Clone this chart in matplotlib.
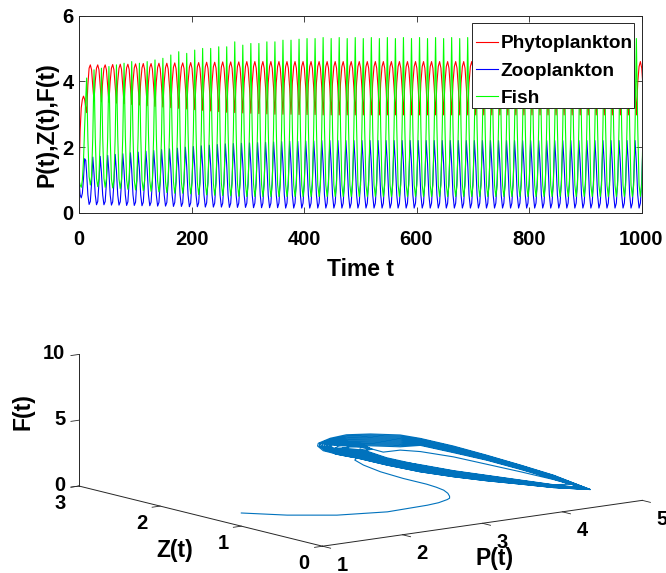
#!/usr/bin/env python3
"""Time series and phase portrait of the plankton / fish model."""

import matplotlib

matplotlib.use("Agg")
import matplotlib.pyplot as plt
import numpy as np
from matplotlib.patches import Rectangle

plt.rcParams["font.family"] = ["Liberation Sans", "DejaVu Sans"]
plt.rcParams["font.weight"] = "bold"

DARK = "#262626"
LINE_BLUE = "#0072BD"

# --- top panel ---
lead_t = [0, 2, 4, 6, 8, 10, 12]
lead_phyto = [1.0, 2.5, 3.2, 3.45, 3.55, 3.45, 3.2]
lead_zoo = [1.0, 0.55, 0.46, 0.6, 1.05, 1.65, 1.6]
lead_fish = [1.0, 0.85, 0.78, 1.0, 1.6, 2.6, 3.5]

# times of the fish peaks, one stretch of samples sits between two of them
peak_t = [13.6, 26.7, 39.9, 53.2, 66.6, 80.1, 93.7, 107.4, 121.2, 135.1, 149.1, 163.2,
          177.3, 191.5, 205.7, 219.8, 234.1, 248.4, 262.6, 276.9, 291.2, 305.5, 319.8,
          334.0, 348.3, 362.6, 376.9, 391.2, 405.4, 419.7, 434.0, 448.3, 462.6, 476.8,
          491.1, 505.4, 519.7, 534.0, 548.2, 562.5, 576.8, 591.1, 605.4, 619.6, 633.9,
          648.2, 662.5, 676.8, 691.0, 705.3, 719.6, 733.9, 748.2, 762.4, 776.7, 791.0,
          805.3, 819.6, 833.8, 848.1, 862.4, 876.7, 891.0, 905.2, 919.5, 933.8, 948.1,
          962.4, 976.6, 990.9, 1005.2]

# six samples per stretch
phyto = [
    3.05, 3.90, 4.40, 4.50, 4.35, 3.85, 3.40, 4.00, 4.40, 4.50, 4.35, 3.85,
    3.38, 4.00, 4.40, 4.50, 4.35, 3.85, 3.36, 4.00, 4.40, 4.51, 4.35, 3.85,
    3.34, 4.00, 4.40, 4.52, 4.36, 3.85, 3.32, 4.00, 4.41, 4.52, 4.36, 3.85,
    3.30, 3.98, 4.41, 4.53, 4.37, 3.85, 3.28, 3.98, 4.41, 4.54, 4.37, 3.84,
    3.26, 3.98, 4.42, 4.54, 4.37, 3.84, 3.24, 3.98, 4.42, 4.55, 4.38, 3.84,
    3.22, 3.97, 4.42, 4.55, 4.38, 3.84, 3.20, 3.97, 4.43, 4.56, 4.38, 3.83,
    3.18, 3.97, 4.43, 4.56, 4.39, 3.83, 3.16, 3.96, 4.43, 4.57, 4.39, 3.83,
    3.14, 3.96, 4.44, 4.57, 4.39, 3.83, 3.12, 3.96, 4.44, 4.58, 4.39, 3.82,
    3.10, 3.96, 4.44, 4.58, 4.40, 3.82, 3.08, 3.95, 4.44, 4.59, 4.40, 3.82,
    3.06, 3.95, 4.45, 4.59, 4.40, 3.82, 3.05, 3.95, 4.45, 4.59, 4.40, 3.81,
    3.04, 3.95, 4.45, 4.60, 4.40, 3.81, 3.03, 3.95, 4.45, 4.60, 4.40, 3.81,
    3.02, 3.95, 4.45, 4.60, 4.40, 3.81, 3.01, 3.95, 4.45, 4.60, 4.40, 3.80,
    3.00, 3.95, 4.45, 4.60, 4.40, 3.80, 3.00, 3.95, 4.45, 4.60, 4.40, 3.80,
    3.00, 3.95, 4.45, 4.60, 4.40, 3.80, 2.99, 3.95, 4.45, 4.60, 4.40, 3.80,
    2.99, 3.95, 4.45, 4.60, 4.40, 3.80, 2.99, 3.95, 4.45, 4.60, 4.40, 3.80,

    2.98, 3.95, 4.45, 4.60, 4.40, 3.80, 2.98, 3.95, 4.45, 4.60, 4.40, 3.80,
    2.98, 3.95, 4.45, 4.60, 4.40, 3.80, 2.98, 3.95, 4.45, 4.60, 4.40, 3.80,
    2.98, 3.95, 4.45, 4.60, 4.40, 3.80, 2.98, 3.95, 4.45, 4.60, 4.40, 3.80,
    2.98, 3.95, 4.45, 4.60, 4.40, 3.80, 2.98, 3.95, 4.45, 4.60, 4.40, 3.80,
    2.98, 3.95, 4.45, 4.60, 4.40, 3.80, 2.98, 3.95, 4.45, 4.60, 4.40, 3.80,

    2.98, 3.95, 4.45, 4.60, 4.40, 3.80, 2.98, 3.95, 4.45, 4.60, 4.40, 3.80,
    2.98, 3.95, 4.45, 4.60, 4.40, 3.80, 2.98, 3.95, 4.45, 4.60, 4.40, 3.80,
    2.98, 3.95, 4.45, 4.60, 4.40, 3.80, 2.98, 3.95, 4.45, 4.60, 4.40, 3.80,
    2.98, 3.95, 4.45, 4.60, 4.40, 3.80, 2.98, 3.95, 4.45, 4.60, 4.40, 3.80,
    2.98, 3.95, 4.45, 4.60, 4.40, 3.80, 2.98, 3.95, 4.45, 4.60, 4.40, 3.80,

    2.98, 3.95, 4.45, 4.60, 4.40, 3.80, 2.98, 3.95, 4.45, 4.60, 4.40, 3.80,
    2.98, 3.95, 4.45, 4.60, 4.40, 3.80, 2.98, 3.95, 4.45, 4.60, 4.40, 3.80,
    2.98, 3.95, 4.45, 4.60, 4.40, 3.80, 2.98, 3.95, 4.45, 4.60, 4.40, 3.80,
    2.98, 3.95, 4.45, 4.60, 4.40, 3.80, 2.98, 3.95, 4.45, 4.60, 4.40, 3.80,
    2.98, 3.95, 4.45, 4.60, 4.40, 3.80, 2.98, 3.95, 4.45, 4.60, 4.40, 3.80,

    2.98, 3.95, 4.45, 4.60, 4.40, 3.80, 2.98, 3.95, 4.45, 4.60, 4.40, 3.80,
    2.98, 3.95, 4.45, 4.60, 4.40, 3.80, 2.98, 3.95, 4.45, 4.60, 4.40, 3.80,
    2.98, 3.95, 4.45, 4.60, 4.40, 3.80, 2.98, 3.95, 4.45, 4.60, 4.40, 3.80,
    2.98, 3.95, 4.45, 4.60, 4.40, 3.80, 2.98, 3.95, 4.45, 4.60, 4.40, 3.80,
    2.98, 3.95, 4.45, 4.60, 4.40, 3.80, 2.98, 3.95, 4.45, 4.60, 4.40, 3.80,
]
zoo = [
    1.20, 0.55, 0.26, 0.35, 0.90, 1.70, 1.20, 0.55, 0.25, 0.35, 0.92, 1.72,
    1.22, 0.55, 0.25, 0.35, 0.93, 1.75, 1.24, 0.55, 0.24, 0.34, 0.94, 1.78,
    1.26, 0.55, 0.24, 0.34, 0.95, 1.80, 1.28, 0.55, 0.23, 0.34, 0.96, 1.83,
    1.30, 0.55, 0.23, 0.33, 0.96, 1.85, 1.32, 0.55, 0.22, 0.33, 0.97, 1.88,
    1.33, 0.55, 0.22, 0.33, 0.97, 1.90, 1.35, 0.55, 0.21, 0.32, 0.98, 1.93,
    1.36, 0.55, 0.21, 0.32, 0.98, 1.95, 1.38, 0.55, 0.20, 0.32, 0.98, 1.97,
    1.40, 0.55, 0.20, 0.31, 0.99, 2.00, 1.41, 0.55, 0.19, 0.31, 0.99, 2.02,
    1.42, 0.55, 0.19, 0.31, 0.99, 2.04, 1.43, 0.55, 0.18, 0.31, 1.00, 2.06,
    1.44, 0.55, 0.18, 0.30, 1.00, 2.08, 1.45, 0.55, 0.18, 0.30, 1.00, 2.10,
    1.46, 0.55, 0.17, 0.30, 1.00, 2.11, 1.47, 0.55, 0.17, 0.30, 1.00, 2.12,
    1.48, 0.55, 0.17, 0.30, 1.00, 2.13, 1.48, 0.55, 0.16, 0.30, 1.00, 2.14,
    1.49, 0.55, 0.16, 0.30, 1.00, 2.15, 1.49, 0.55, 0.16, 0.30, 1.00, 2.16,
    1.50, 0.55, 0.16, 0.30, 1.00, 2.17, 1.50, 0.55, 0.15, 0.30, 1.00, 2.18,
    1.50, 0.55, 0.15, 0.30, 1.00, 2.18, 1.50, 0.55, 0.15, 0.30, 1.00, 2.19,
    1.50, 0.55, 0.15, 0.30, 1.00, 2.19, 1.50, 0.55, 0.15, 0.30, 1.00, 2.20,

    1.50, 0.55, 0.15, 0.30, 1.00, 2.20, 1.50, 0.55, 0.15, 0.30, 1.00, 2.20,
    1.50, 0.55, 0.15, 0.30, 1.00, 2.20, 1.50, 0.55, 0.15, 0.30, 1.00, 2.20,
    1.50, 0.55, 0.15, 0.30, 1.00, 2.20, 1.50, 0.55, 0.15, 0.30, 1.00, 2.20,
    1.50, 0.55, 0.15, 0.30, 1.00, 2.20, 1.50, 0.55, 0.15, 0.30, 1.00, 2.20,
    1.50, 0.55, 0.15, 0.30, 1.00, 2.20, 1.50, 0.55, 0.15, 0.30, 1.00, 2.20,

    1.50, 0.55, 0.15, 0.30, 1.00, 2.20, 1.50, 0.55, 0.15, 0.30, 1.00, 2.20,
    1.50, 0.55, 0.15, 0.30, 1.00, 2.20, 1.50, 0.55, 0.15, 0.30, 1.00, 2.20,
    1.50, 0.55, 0.15, 0.30, 1.00, 2.20, 1.50, 0.55, 0.15, 0.30, 1.00, 2.20,
    1.50, 0.55, 0.15, 0.30, 1.00, 2.20, 1.50, 0.55, 0.15, 0.30, 1.00, 2.20,
    1.50, 0.55, 0.15, 0.30, 1.00, 2.20, 1.50, 0.55, 0.15, 0.30, 1.00, 2.20,

    1.50, 0.55, 0.15, 0.30, 1.00, 2.20, 1.50, 0.55, 0.15, 0.30, 1.00, 2.20,
    1.50, 0.55, 0.15, 0.30, 1.00, 2.20, 1.50, 0.55, 0.15, 0.30, 1.00, 2.20,
    1.50, 0.55, 0.15, 0.30, 1.00, 2.20, 1.50, 0.55, 0.15, 0.30, 1.00, 2.20,
    1.50, 0.55, 0.15, 0.30, 1.00, 2.20, 1.50, 0.55, 0.15, 0.30, 1.00, 2.20,
    1.50, 0.55, 0.15, 0.30, 1.00, 2.20, 1.50, 0.55, 0.15, 0.30, 1.00, 2.20,

    1.50, 0.55, 0.15, 0.30, 1.00, 2.20, 1.50, 0.55, 0.15, 0.30, 1.00, 2.20,
    1.50, 0.55, 0.15, 0.30, 1.00, 2.20, 1.50, 0.55, 0.15, 0.30, 1.00, 2.20,
    1.50, 0.55, 0.15, 0.30, 1.00, 2.20, 1.50, 0.55, 0.15, 0.30, 1.00, 2.20,
    1.50, 0.55, 0.15, 0.30, 1.00, 2.20, 1.50, 0.55, 0.15, 0.30, 1.00, 2.20,
    1.50, 0.55, 0.15, 0.30, 1.00, 2.20, 1.50, 0.55, 0.15, 0.30, 1.00, 2.20,
]
fish = [
    4.10, 2.25, 1.10, 0.85, 1.10, 2.30, 4.35, 2.30, 1.05, 0.80, 1.05, 2.30,
    4.40, 2.30, 1.05, 0.78, 1.05, 2.30, 4.45, 2.32, 1.03, 0.76, 1.03, 2.32,
    4.50, 2.32, 1.03, 0.74, 1.03, 2.34, 4.55, 2.34, 1.01, 0.72, 1.01, 2.34,
    4.60, 2.36, 1.00, 0.70, 1.00, 2.36, 4.55, 2.36, 0.99, 0.68, 0.99, 2.36,
    4.60, 2.38, 0.98, 0.66, 0.98, 2.38, 4.65, 2.38, 0.97, 0.64, 0.97, 2.40,
    4.70, 2.40, 0.96, 0.62, 0.96, 2.42, 4.80, 2.42, 0.95, 0.60, 0.95, 2.44,
    4.90, 2.44, 0.94, 0.60, 0.94, 2.44, 4.85, 2.46, 0.93, 0.58, 0.93, 2.46,
    4.95, 2.48, 0.92, 0.56, 0.92, 2.48, 5.00, 2.50, 0.91, 0.55, 0.91, 2.50,
    5.00, 2.50, 0.90, 0.54, 0.90, 2.50, 5.05, 2.52, 0.90, 0.53, 0.90, 2.52,
    5.05, 2.52, 0.89, 0.52, 0.89, 2.52, 5.20, 2.54, 0.89, 0.51, 0.89, 2.54,
    5.10, 2.54, 0.88, 0.50, 0.88, 2.54, 5.15, 2.56, 0.88, 0.50, 0.88, 2.56,
    5.15, 2.56, 0.87, 0.50, 0.87, 2.56, 5.20, 2.58, 0.87, 0.50, 0.87, 2.58,
    5.20, 2.58, 0.86, 0.50, 0.86, 2.58, 5.25, 2.60, 0.86, 0.50, 0.86, 2.60,
    5.25, 2.60, 0.85, 0.50, 0.85, 2.60, 5.28, 2.60, 0.85, 0.50, 0.85, 2.60,
    5.30, 2.60, 0.85, 0.50, 0.85, 2.60, 5.30, 2.60, 0.85, 0.50, 0.85, 2.60,

    5.33, 2.60, 0.85, 0.50, 0.85, 2.60, 5.30, 2.60, 0.85, 0.50, 0.85, 2.60,
    5.33, 2.60, 0.85, 0.50, 0.85, 2.60, 5.30, 2.60, 0.85, 0.50, 0.85, 2.60,
    5.33, 2.60, 0.85, 0.50, 0.85, 2.60, 5.30, 2.60, 0.85, 0.50, 0.85, 2.60,
    5.33, 2.60, 0.85, 0.50, 0.85, 2.60, 5.30, 2.60, 0.85, 0.50, 0.85, 2.60,
    5.33, 2.60, 0.85, 0.50, 0.85, 2.60, 5.30, 2.60, 0.85, 0.50, 0.85, 2.60,

    5.33, 2.60, 0.85, 0.50, 0.85, 2.60, 5.30, 2.60, 0.85, 0.50, 0.85, 2.60,
    5.33, 2.60, 0.85, 0.50, 0.85, 2.60, 5.30, 2.60, 0.85, 0.50, 0.85, 2.60,
    5.33, 2.60, 0.85, 0.50, 0.85, 2.60, 5.30, 2.60, 0.85, 0.50, 0.85, 2.60,
    5.33, 2.60, 0.85, 0.50, 0.85, 2.60, 5.30, 2.60, 0.85, 0.50, 0.85, 2.60,
    5.33, 2.60, 0.85, 0.50, 0.85, 2.60, 5.30, 2.60, 0.85, 0.50, 0.85, 2.60,

    5.33, 2.60, 0.85, 0.50, 0.85, 2.60, 5.30, 2.60, 0.85, 0.50, 0.85, 2.60,
    5.33, 2.60, 0.85, 0.50, 0.85, 2.60, 5.30, 2.60, 0.85, 0.50, 0.85, 2.60,
    5.33, 2.60, 0.85, 0.50, 0.85, 2.60, 5.30, 2.60, 0.85, 0.50, 0.85, 2.60,
    5.33, 2.60, 0.85, 0.50, 0.85, 2.60, 5.30, 2.60, 0.85, 0.50, 0.85, 2.60,
    5.33, 2.60, 0.85, 0.50, 0.85, 2.60, 5.30, 2.60, 0.85, 0.50, 0.85, 2.60,

    5.33, 2.60, 0.85, 0.50, 0.85, 2.60, 5.30, 2.60, 0.85, 0.50, 0.85, 2.60,
    5.33, 2.60, 0.85, 0.50, 0.85, 2.60, 5.30, 2.60, 0.85, 0.50, 0.85, 2.60,
    5.33, 2.60, 0.85, 0.50, 0.85, 2.60, 5.30, 2.60, 0.85, 0.50, 0.85, 2.60,
    5.33, 2.60, 0.85, 0.50, 0.85, 2.60, 5.30, 2.60, 0.85, 0.50, 0.85, 2.60,
    5.33, 2.60, 0.85, 0.50, 0.85, 2.60, 5.30, 2.60, 0.85, 0.50, 0.85, 2.60,
]

# --- bottom panel: trajectory in (P, Z, F) ---
start_P = [1.00, 1.37, 1.81, 2.32, 2.82, 3.00, 3.17, 3.25, 3.30, 3.38, 3.43, 3.47, 3.47, 3.43,
           3.35, 3.24, 3.13]
start_Z = [1.00, 0.80, 0.62, 0.50, 0.50, 0.54, 0.60, 0.65, 0.70, 0.80, 0.90, 1.03, 1.15, 1.40,
           1.60, 1.70, 1.70]
start_F = [1.00, 0.82, 0.71, 0.70, 0.77, 0.74, 0.74, 0.70, 0.73, 0.73, 0.77, 0.76, 0.81, 0.90,
           1.17, 1.62, 2.10]

# first, innermost pass round the loop
first_P = [2.89, 2.87, 2.93, 3.10, 3.36, 3.68, 4.04, 4.30, 4.40, 4.29, 4.17, 4.06, 3.90, 3.80,
           3.74, 3.61, 3.48, 3.38, 3.43]
first_Z = [1.40, 1.05, 0.70, 0.45, 0.30, 0.20, 0.15, 0.20, 0.50, 0.80, 1.10, 1.40, 1.65, 1.80,
           1.95, 2.05, 2.10, 2.10, 2.05]
first_F = [3.17, 3.35, 3.45, 3.22, 2.87, 2.38, 1.80, 1.53, 1.34, 1.57, 1.79, 1.99, 2.15, 2.12,
           1.79, 2.14, 2.25, 2.11, 1.84]

# tight turns inside the left lobe
lobe_P = [3.63, 3.53, 3.38, 3.23, 3.18, 3.25, 3.40, 3.55,
          3.60, 3.50, 3.38, 3.28, 3.25, 3.33, 3.45, 3.55,
          3.65, 3.50, 3.31, 3.13, 3.08, 3.19, 3.40, 3.60]
lobe_Z = [2.00, 2.00, 2.00, 2.00, 2.00, 2.00, 2.00, 2.00,
          2.00, 2.00, 2.00, 2.00, 2.00, 2.00, 2.00, 2.00,
          2.00, 2.00, 2.00, 2.00, 2.00, 2.00, 2.00, 2.00]
lobe_F = [2.05, 2.44, 2.65, 2.63, 2.44, 2.07, 1.86, 1.81,
          2.07, 2.31, 2.42, 2.43, 2.30, 2.08, 1.97, 1.96,
          2.02, 2.58, 2.85, 2.79, 2.53, 2.05, 1.63, 1.61]

# later passes share their Z values, inner to outer
loop_Z = [1.40, 1.05, 0.70, 0.45, 0.30, 0.20, 0.15, 0.20, 0.50, 0.80, 1.10, 1.40, 1.65, 1.80,
          1.95, 2.05, 2.10, 2.10, 2.05, 1.95, 1.70]
loop_P = [
    [2.89, 2.87, 2.93, 3.10, 3.36, 3.68, 4.04, 4.45, 4.40, 4.29, 4.17, 4.06, 3.90, 3.80,
     3.58, 3.43, 3.33, 3.24, 3.18, 3.12, 2.98],
    [2.89, 2.87, 2.93, 3.10, 3.36, 3.68, 4.04, 4.46, 4.40, 4.29, 4.17, 4.06, 3.90, 3.80,
     3.58, 3.43, 3.32, 3.22, 3.16, 3.11, 2.98],
    [2.89, 2.87, 2.93, 3.10, 3.36, 3.68, 4.04, 4.47, 4.40, 4.29, 4.17, 4.06, 3.90, 3.80,
     3.58, 3.42, 3.31, 3.20, 3.14, 3.09, 2.97],
    [2.89, 2.87, 2.93, 3.10, 3.36, 3.68, 4.04, 4.49, 4.40, 4.29, 4.17, 4.06, 3.90, 3.80,
     3.58, 3.42, 3.30, 3.19, 3.13, 3.08, 2.97],
    [2.89, 2.87, 2.93, 3.10, 3.36, 3.68, 4.04, 4.50, 4.40, 4.29, 4.17, 4.06, 3.90, 3.80,
     3.58, 3.41, 3.29, 3.17, 3.11, 3.07, 2.97],
    [2.89, 2.87, 2.93, 3.10, 3.36, 3.68, 4.04, 4.51, 4.40, 4.29, 4.17, 4.06, 3.90, 3.80,
     3.58, 3.41, 3.28, 3.16, 3.10, 3.06, 2.97],
    [2.89, 2.87, 2.93, 3.10, 3.36, 3.68, 4.04, 4.52, 4.40, 4.29, 4.17, 4.06, 3.90, 3.80,
     3.58, 3.40, 3.27, 3.14, 3.08, 3.04, 2.96],
    [2.89, 2.87, 2.93, 3.10, 3.36, 3.68, 4.04, 4.53, 4.40, 4.29, 4.17, 4.06, 3.90, 3.80,
     3.58, 3.40, 3.26, 3.13, 3.07, 3.03, 2.96],
    [2.89, 2.87, 2.93, 3.10, 3.36, 3.68, 4.04, 4.54, 4.40, 4.29, 4.17, 4.06, 3.90, 3.80,
     3.58, 3.39, 3.25, 3.11, 3.05, 3.02, 2.96],
    [2.89, 2.87, 2.93, 3.10, 3.36, 3.68, 4.04, 4.55, 4.40, 4.29, 4.17, 4.06, 3.90, 3.80,
     3.58, 3.39, 3.24, 3.10, 3.04, 3.01, 2.96],
    [2.89, 2.87, 2.93, 3.10, 3.36, 3.68, 4.04, 4.55, 4.40, 4.29, 4.17, 4.06, 3.90, 3.80,
     3.58, 3.38, 3.23, 3.08, 3.02, 2.99, 2.95],
]
loop_F = [
    [3.62, 3.49, 3.41, 3.19, 2.84, 2.36, 1.78, 1.15, 1.37, 1.75, 2.10, 2.31, 2.62, 2.37,
     2.41, 2.37, 2.41, 2.56, 2.59, 2.63, 3.14],
    [3.55, 3.44, 3.36, 3.15, 2.80, 2.33, 1.76, 1.12, 1.40, 1.79, 2.14, 2.36, 2.67, 2.46,
     2.50, 2.46, 2.48, 2.59, 2.61, 2.62, 3.09],
    [3.47, 3.38, 3.31, 3.10, 2.76, 2.30, 1.74, 1.09, 1.43, 1.82, 2.18, 2.41, 2.72, 2.55,
     2.59, 2.55, 2.54, 2.61, 2.62, 2.61, 3.04],
    [3.40, 3.33, 3.26, 3.06, 2.73, 2.28, 1.72, 1.06, 1.46, 1.85, 2.22, 2.46, 2.78, 2.64,
     2.68, 2.64, 2.61, 2.64, 2.64, 2.61, 2.99],
    [3.32, 3.27, 3.21, 3.02, 2.69, 2.25, 1.70, 1.03, 1.49, 1.88, 2.25, 2.51, 2.83, 2.73,
     2.77, 2.73, 2.67, 2.66, 2.65, 2.60, 2.94],
    [3.25, 3.22, 3.16, 2.98, 2.65, 2.22, 1.68, 1.00, 1.52, 1.92, 2.29, 2.56, 2.89, 2.82,
     2.86, 2.82, 2.74, 2.69, 2.66, 2.59, 2.89],
    [3.17, 3.16, 3.11, 2.93, 2.61, 2.19, 1.66, 0.98, 1.55, 1.95, 2.33, 2.61, 2.94, 2.91,
     2.95, 2.91, 2.80, 2.71, 2.67, 2.58, 2.84],
    [3.10, 3.11, 3.06, 2.89, 2.58, 2.17, 1.64, 0.96, 1.58, 1.98, 2.37, 2.66, 2.99, 3.00,
     3.04, 3.00, 2.87, 2.74, 2.69, 2.58, 2.79],
    [3.02, 3.05, 3.01, 2.85, 2.54, 2.14, 1.62, 0.94, 1.61, 2.01, 2.40, 2.71, 3.04, 3.09,
     3.13, 3.09, 2.93, 2.76, 2.70, 2.57, 2.74],
    [2.95, 3.00, 2.96, 2.81, 2.50, 2.11, 1.60, 0.92, 1.64, 2.05, 2.44, 2.76, 3.10, 3.18,
     3.22, 3.18, 3.00, 2.79, 2.72, 2.56, 2.69],
    [2.87, 2.94, 2.91, 2.76, 2.46, 2.08, 1.58, 0.91, 1.67, 2.08, 2.48, 2.81, 3.15, 3.27,
     3.31, 3.27, 3.06, 2.81, 2.73, 2.55, 2.64],
]
# closes the outer pass back at the tip
end_P = [2.89, 2.87, 2.93, 3.10, 3.36, 3.68, 4.04, 4.55]
end_Z = [1.40, 1.05, 0.70, 0.45, 0.30, 0.20, 0.15, 0.20]
end_F = [2.87, 2.94, 2.91, 2.76, 2.46, 2.08, 1.58, 0.91]

W, H = 666, 573
fig = plt.figure(figsize=(W / 100, H / 100), dpi=100, facecolor="white")

# top panel
ax = fig.add_axes([79 / W, (H - 213) / H, 562.5 / W, 197.5 / H])
t = list(lead_t)
for k in range(len(peak_t) - 1):
    t.extend(np.linspace(peak_t[k], peak_t[k + 1], 6, endpoint=False))
t = np.array(t)

ax.plot(t, lead_phyto + phyto, color="#ff0000", lw=0.8, label="Phytoplankton")
ax.plot(t, lead_zoo + zoo, color="#0000ff", lw=0.8, label="Zooplankton")
ax.plot(t, lead_fish + fish, color="#00ff00", lw=0.8, label="Fish")
ax.set_xlim(0, 1000)
ax.set_ylim(0, 6)
ax.set_xticks([0, 200, 400, 600, 800, 1000])
ax.set_yticks([0, 2, 4, 6])
ax.tick_params(direction="in", top=True, right=True, length=4, width=0.6, color=DARK,
               labelsize=14.5)
ax.tick_params(axis="x", pad=12)
ax.tick_params(axis="y", pad=4)
for spine in ax.spines.values():
    spine.set_color(DARK)
    spine.set_linewidth(0.7)
ax.set_xlabel("Time t", fontsize=16.5, fontweight="bold", labelpad=7)
ax.set_ylabel("P(t),Z(t),F(t)", fontsize=16.5, fontweight="bold", labelpad=3, y=0.445)

# legend frame sits higher over its rows than the default padding allows
ax.add_patch(Rectangle((392.7 / 562.5, (213 - 108.3) / 197.5), 162.6 / 562.5, 85 / 197.5,
                       transform=ax.transAxes, facecolor="white", edgecolor=DARK, lw=0.7,
                       zorder=4.5, clip_on=False))
ax.legend(loc="upper left", bbox_to_anchor=(397 / 562.5, (213 - 35) / 197.5),
          fontsize=13.7, frameon=False, handlelength=1.16, handletextpad=0.12,
          labelspacing=0.52, borderpad=0, borderaxespad=0)

# bottom panel, orthographic view as in the source
ax3 = fig.add_axes([52.5 / W, -162.5 / H, 600 / W, 600 / H], projection="3d", proj_type="ortho")
ax3.view_init(elev=10.85, azim=-127.3)
ax3.set_box_aspect((3, 3, 1), zoom=0.945)
ax3.set_xlim(1, 5)
ax3.set_ylim(0, 3)
ax3.set_zlim(0, 10)
ax3.set_axis_off()
ax3.patch.set_alpha(0)

traj_P = start_P + first_P + lobe_P
traj_Z = start_Z + first_Z + lobe_Z
traj_F = start_F + first_F + lobe_F
for row_P, row_F in zip(loop_P, loop_F):
    traj_P = traj_P + row_P
    traj_Z = traj_Z + loop_Z
    traj_F = traj_F + row_F
traj_P = traj_P + end_P
traj_Z = traj_Z + end_Z
traj_F = traj_F + end_F
ax3.plot(traj_P, traj_Z, traj_F, color=LINE_BLUE, lw=0.8)

# axis lines and ticks
ax3.plot([1, 5], [0, 0], [0, 0], color=DARK, lw=0.7)
ax3.plot([1, 1], [0, 3], [0, 0], color=DARK, lw=0.7)
ax3.plot([1, 1], [3, 3], [0, 10], color=DARK, lw=0.7)
for p in [1, 2, 3, 4, 5]:
    ax3.plot([p, p], [0, -0.1], [0, 0], color=DARK, lw=0.6)
    ax3.text(p, -0.24, -1.08, str(p), ha="center", va="center", fontsize=14.5)
for z in [0, 1, 2, 3]:
    ax3.plot([1, 0.9], [z, z], [0, 0], color=DARK, lw=0.6)
    ax3.text(0.77, z, -1.1, str(z), ha="center", va="center", fontsize=14.5)
for f in [0, 5, 10]:
    ax3.plot([1, 0.9], [3, 3], [f, f], color=DARK, lw=0.6)
    ax3.text(0.83, 3, f + 0.2, str(f), ha="right", va="center", fontsize=14.5)

fig.text(495 / W, 1 - 558 / H, "P(t)", ha="center", va="center", fontsize=16.5)
fig.text(175 / W, 1 - 550 / H, "Z(t)", ha="center", va="center", fontsize=16.5)
fig.text(23 / W, 1 - 412 / H, "F(t)", ha="center", va="center", rotation=90, fontsize=16.5)

fig.savefig("out.png", dpi=100)
